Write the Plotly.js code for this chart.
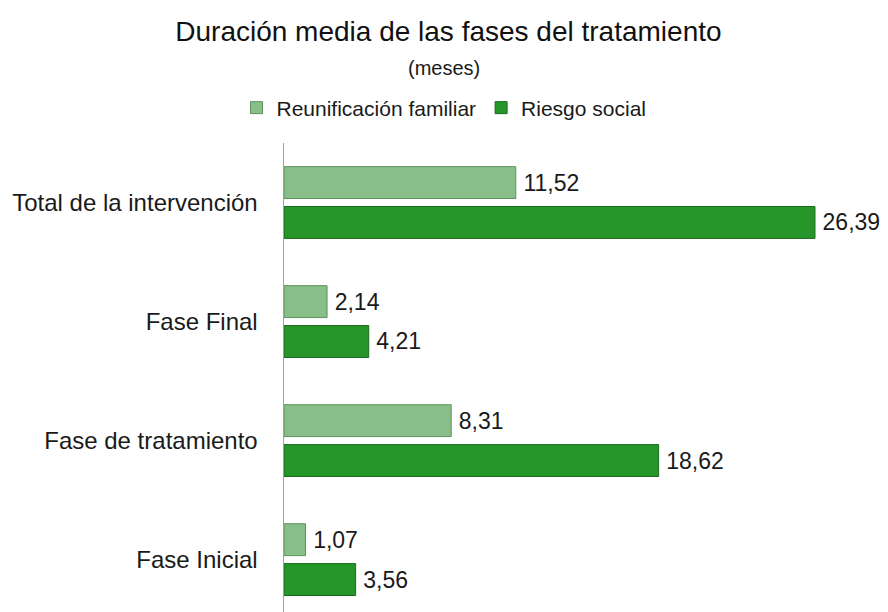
<!DOCTYPE html>
<html>
<head>
<meta charset="utf-8">
<script src="https://cdn.plot.ly/plotly-3.0.1.min.js"></script>
<style>html,body{margin:0;padding:0;background:#fff;}#chart{width:888px;height:612px;}</style>
</head>
<body>
<div id="chart"></div>
<script>
const categories = ['Total de la intervención', 'Fase Final', 'Fase de tratamiento', 'Fase Inicial'];
const reunificacion = [11.52, 2.14, 8.31, 1.07];
const riesgo = [26.39, 4.21, 18.62, 3.56];
const seriesNames = ['Reunificación familiar', 'Riesgo social'];

const font = 'Liberation Sans, Arial, sans-serif';
const traces = [
  {
    type: 'bar', orientation: 'h', name: seriesNames[0],
    y: categories, x: reunificacion,
    marker: {color: '#88be88', line: {color: '#5f905f', width: 1}},
    texttemplate: '\u2009%{x:.2f}', textposition: 'outside',
    textfont: {family: font, size: 23, color: '#1a1a1a'}, cliponaxis: false,
    hoverinfo: 'skip'
  },
  {
    type: 'bar', orientation: 'h', name: seriesNames[1],
    y: categories, x: riesgo,
    marker: {color: '#27962a', line: {color: '#1a6a1c', width: 1}},
    texttemplate: '\u2009%{x:.2f}', textposition: 'outside',
    textfont: {family: font, size: 23, color: '#1a1a1a'}, cliponaxis: false,
    hoverinfo: 'skip'
  }
];

const layout = {
  width: 888, height: 612,
  paper_bgcolor: '#fff', plot_bgcolor: '#fff',
  separators: ',.',
  font: {family: font, color: '#1a1a1a'},
  margin: {l: 284, r: 4, t: 143, b: 0},
  barmode: 'group', bargap: 0.33, bargroupgap: 0.2,
  title: {
    text: 'Duración media de las fases del tratamiento',
    font: {family: font, size: 28, color: '#111'},
    x: 0.505, xref: 'container', xanchor: 'center',
    y: 1 - 31/612, yref: 'container', yanchor: 'middle'
  },
  annotations: [{
    text: '(meses)', xref: 'paper', yref: 'paper',
    x: (444-284)/600, y: 1 + (143-68)/469, xanchor: 'center', yanchor: 'middle',
    showarrow: false, font: {family: font, size: 20, color: '#1a1a1a'}
  }],
  legend: {
    orientation: 'h', xref: 'container', yref: 'container',
    x: 0.5, xanchor: 'center', y: 1 - 108/612, yanchor: 'middle',
    font: {family: font, size: 21, color: '#1a1a1a'},
    itemwidth: 30, tracegroupgap: 0
  },
  xaxis: {
    range: [0, 600/20.12], showgrid: false, zeroline: false,
    showticklabels: false, ticks: '', showline: false, fixedrange: true
  },
  yaxis: {
    type: 'category', range: [3.44, -0.5], showgrid: false, zeroline: false,
    showline: true, linecolor: '#a0a0a0', linewidth: 1.5,
    ticks: '', ticklabelstandoff: 20,
    tickfont: {family: font, size: 24, color: '#1a1a1a'}, fixedrange: true
  },
  showlegend: true
};

Plotly.newPlot('chart', traces, layout, {displayModeBar: false, staticPlot: true});
</script>
</body>
</html>
